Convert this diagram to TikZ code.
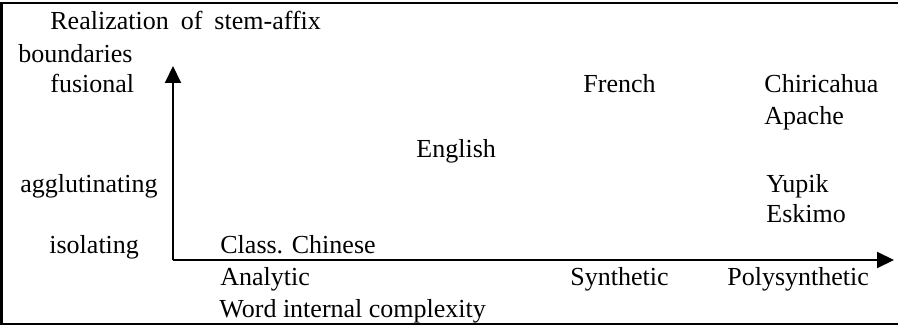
\documentclass[tikz,border=0pt]{standalone}
\usepackage{fontspec}
\setmainfont{Liberation Serif}
\usetikzlibrary{arrows.meta}

\begin{document}
\begin{tikzpicture}[x=0.5pt, y=-0.5pt,
    lbl/.style={anchor=base west, inner sep=0pt,
      font=\fontsize{13pt}{15.5pt}\selectfont},
    axis/.style={line width=1pt,
      -{Triangle[length=8.5pt, width=8pt]}},
    frame/.style={line width=1.3pt}]

\useasboundingbox (0,0) rectangle (898,326);

% frame
\draw[frame] (898,3) -- (1.5,3) -- (1.5,324) -- (898,324);

% axes
\coordinate (origin) at (173,260);
\coordinate (ytop) at (173,66);
\coordinate (xend) at (894,260);

\draw[axis] (origin.center) -- (ytop);
\draw[axis] (origin.center) -- (xend);

% vertical axis labels
\node[lbl] (ytitle) at (50,30)
  {Realization\hspace{6pt}of\hspace{6pt}stem-affix};
\node[lbl] (ytitle2) at (18,63) {boundaries};
\node[lbl] (fusional) at (50,93) {fusional};
\node[lbl] (aggl) at (20,192) {agglutinating};
\node[lbl] (isol) at (49,253) {isolating};

% languages
\node[lbl] (chinese) at (220,253) {Class. Chinese};
\node[lbl] (english) at (416,157) {English};
\node[lbl] (french) at (583,93) {French};
\node[lbl] (chiric) at (764,93) {Chiricahua};
\node[lbl] (apache) at (764,125) {Apache};
\node[lbl] (yupik) at (766,192) {Yupik};
\node[lbl] (eskimo) at (766,222) {Eskimo};

% horizontal axis labels
\node[lbl] (analytic) at (220,285) {Analytic};
\node[lbl] (synth) at (570,285) {Synthetic};
\node[lbl] (polysynth) at (727,285) {Polysynthetic};
\node[lbl] (xtitle) at (219,317) {Word internal complexity};

\end{tikzpicture}
\end{document}
